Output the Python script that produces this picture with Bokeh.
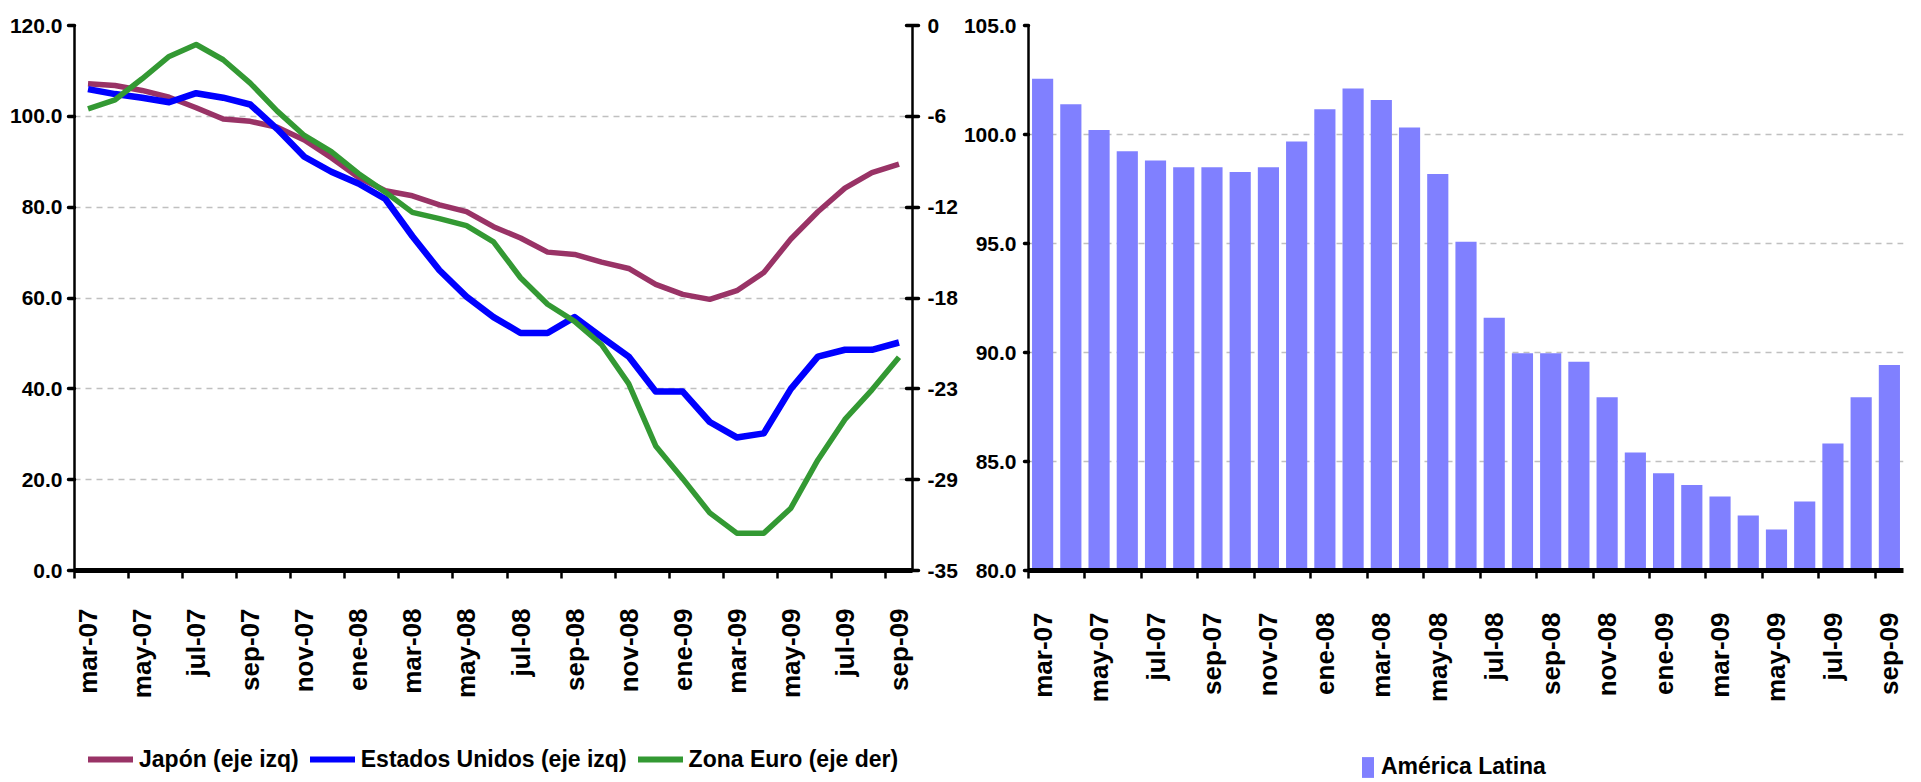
from bokeh.plotting import figure
from bokeh.models import (Range1d, LinearAxis, FixedTicker, NumeralTickFormatter,
                          Legend, LegendItem)
from bokeh.layouts import row, column
from bokeh.embed import file_html
from bokeh.resources import INLINE
from math import pi

# ---------------- data ----------------
months = ["mar-07", "abr-07", "may-07", "jun-07", "jul-07", "ago-07", "sep-07", "oct-07",
          "nov-07", "dic-07", "ene-08", "feb-08", "mar-08", "abr-08", "may-08", "jun-08",
          "jul-08", "ago-08", "sep-08", "oct-08", "nov-08", "dic-08", "ene-09", "feb-09",
          "mar-09", "abr-09", "may-09", "jun-09", "jul-09", "ago-09", "sep-09"]

japon = [107.2, 106.8, 105.7, 104.2, 101.9, 99.4, 98.9, 97.6, 94.8, 90.9, 86.6, 83.6,
         82.5, 80.5, 79.0, 75.7, 73.2, 70.1, 69.6, 67.9, 66.5, 63.0, 60.8, 59.7, 61.6,
         65.6, 73.0, 79.0, 84.2, 87.6, 89.5]

estados_unidos = [106.0, 104.9, 104.1, 103.1, 105.1, 104.1, 102.6, 97.2, 91.1, 87.8, 85.2,
                  81.8, 73.6, 66.1, 60.3, 55.8, 52.3, 52.3, 55.8, 51.4, 47.1, 39.4, 39.4,
                  32.7, 29.3, 30.2, 40.0, 47.1, 48.6, 48.6, 50.2]

zona_euro = [-5.35, -4.77, -3.42, -1.99, -1.22, -2.20, -3.70, -5.50, -7.06, -8.1, -9.5,
             -10.7, -12.0, -12.4, -12.85, -13.9, -16.2, -17.9, -19.0, -20.5, -23.0, -27.0,
             -29.1, -31.3, -32.6, -32.6, -31.0, -27.9, -25.3, -23.4, -21.3]

america_latina = [102.56, 101.39, 100.21, 99.23, 98.81, 98.50, 98.50, 98.28, 98.50, 99.68,
                  101.16, 102.11, 101.58, 100.32, 98.19, 95.08, 91.59, 89.97, 89.97, 89.57,
                  87.95, 85.41, 84.46, 83.92, 83.39, 82.52, 81.88, 83.16, 85.82, 87.95, 89.43]

left_ticks = [0, 20, 40, 60, 80, 100, 120]
euro_tick_labels = ["-35", "-29", "-23", "-18", "-12", "-6", "0"]
bar_ticks = [80, 85, 90, 95, 100, 105]

legend_labels_left = ["Japón (eje izq)", "Estados Unidos (eje izq)", "Zona Euro (eje der)"]
legend_label_right = "América Latina"

# ---------------- style ----------------
FONT = "Liberation Sans"
GRID = "#c0c0c0"
C_JP, C_US, C_EU, C_AL = "#993366", "#0000FF", "#339933", "#8080FF"
MAIN_H, STRIP_H = 735, 47

x = list(range(len(months)))
cat_ticks = x[::2]
boundary_ticks = [i - 0.5 for i in cat_ticks]
label_map = {i: months[i] for i in cat_ticks}


def style_xaxis(ax):
    ax.ticker = FixedTicker(ticks=cat_ticks, minor_ticks=boundary_ticks)
    ax.major_label_overrides = label_map
    ax.major_label_orientation = pi / 2
    ax.major_tick_out = 0
    ax.major_tick_in = 0
    ax.minor_tick_out = 8
    ax.minor_tick_in = 0
    ax.minor_tick_line_width = 2.5
    ax.minor_tick_line_color = "black"
    ax.axis_line_width = 5
    ax.axis_line_color = "black"
    ax.major_label_standoff = 30
    ax.major_label_text_font = FONT
    ax.major_label_text_font_style = "bold"
    ax.major_label_text_font_size = "26px"
    ax.major_label_text_color = "black"


def style_yaxis(ax, size="21px", standoff=6, tin=0, tout=6):
    ax.axis_line_width = 2.5
    ax.axis_line_color = "black"
    ax.major_tick_line_width = 3.5
    ax.major_tick_line_cap = "round"
    ax.major_tick_out = tout
    ax.major_tick_in = tin
    ax.minor_tick_line_color = None
    ax.major_label_text_font = FONT
    ax.major_label_text_font_style = "bold"
    ax.major_label_text_font_size = size
    ax.major_label_text_color = "black"
    ax.major_label_standoff = standoff


def legend_figure(width):
    f = figure(width=width, height=STRIP_H, x_range=Range1d(-1, 0), y_range=Range1d(-1, 0),
               x_axis_type=None, y_axis_type=None, output_backend="svg",
               toolbar_location=None, min_border=0)
    f.outline_line_color = None
    f.grid.visible = False
    return f


def make_legend(items, loc, gw, gh):
    return Legend(items=items, orientation="horizontal", location=loc,
                  glyph_width=gw, glyph_height=gh, label_height=gh, label_standoff=6,
                  spacing=11, padding=0, margin=0, border_line_color=None,
                  background_fill_alpha=0, inactive_fill_alpha=0,
                  label_text_font=FONT, label_text_font_style="bold",
                  label_text_font_size="23px", label_text_color="black")


# ---------------- left chart ----------------
p1 = figure(width=960, height=MAIN_H, x_range=Range1d(-0.5, len(months) - 0.5),
            y_range=Range1d(0, 120), output_backend="svg", toolbar_location=None,
            min_border_left=74, min_border_right=46, min_border_top=25,
            min_border_bottom=MAIN_H - 25 - 545)
p1.extra_y_ranges = {"euro": Range1d(-35, 0)}
p1.outline_line_color = None
p1.xgrid.visible = False
p1.ygrid.ticker = FixedTicker(ticks=left_ticks)
p1.ygrid.grid_line_color = GRID
p1.ygrid.grid_line_dash = "6 5"
p1.ygrid.grid_line_width = 1.5

p1.line(x, japon, line_color=C_JP, line_width=5.5, line_join="round")
p1.line(x, estados_unidos, line_color=C_US, line_width=6.5, line_join="round")
p1.line(x, zona_euro, line_color=C_EU, line_width=5.5, line_join="round",
        y_range_name="euro")

style_xaxis(p1.xaxis[0])
p1.yaxis[0].ticker = FixedTicker(ticks=left_ticks)
p1.yaxis[0].formatter = NumeralTickFormatter(format="0.0")
style_yaxis(p1.yaxis[0])

n_e = len(euro_tick_labels) - 1
euro_ticks = [-35 + 35 * k / n_e for k in range(n_e + 1)]
right_axis = LinearAxis(y_range_name="euro", ticker=FixedTicker(ticks=euro_ticks),
                        major_label_overrides={t: l for t, l in zip(euro_ticks, euro_tick_labels)})
style_yaxis(right_axis, size="21px", standoff=9, tin=6, tout=6)
p1.add_layout(right_axis, "right")

# legend strip under the left chart (hidden copies of the series feed the legend)
l1 = legend_figure(960)
k_j = l1.line(x, japon, line_color=C_JP, line_width=6, line_cap="round", visible=False)
k_u = l1.line(x, estados_unidos, line_color=C_US, line_width=6, line_cap="round", visible=False)
k_e = l1.line(x, zona_euro, line_color=C_EU, line_width=6, line_cap="round", visible=False)
l1.add_layout(make_legend([LegendItem(label=legend_labels_left[0], renderers=[k_j]),
                           LegendItem(label=legend_labels_left[1], renderers=[k_u]),
                           LegendItem(label=legend_labels_left[2], renderers=[k_e])],
                          (88, 8), 45, 30))

# ---------------- right chart ----------------
p2 = figure(width=960, height=MAIN_H, x_range=Range1d(-0.5, len(months) - 0.5),
            y_range=Range1d(80, 105), output_backend="svg", toolbar_location=None,
            min_border_left=55, min_border_right=17, min_border_top=21,
            min_border_bottom=MAIN_H - 21 - 555)
p2.outline_line_color = None
p2.xgrid.visible = False
p2.ygrid.ticker = FixedTicker(ticks=bar_ticks)
p2.ygrid.grid_line_color = GRID
p2.ygrid.grid_line_dash = "6 5"
p2.ygrid.grid_line_width = 1.5

p2.vbar(x=x, top=america_latina, bottom=80, width=0.75, fill_color=C_AL, line_color=None)

style_xaxis(p2.xaxis[0])
p2.xaxis[0].major_label_standoff = 34
p2.yaxis[0].ticker = FixedTicker(ticks=bar_ticks)
p2.yaxis[0].formatter = NumeralTickFormatter(format="0.0")
style_yaxis(p2.yaxis[0], size="21px", standoff=8, tout=4)

# legend strip under the right chart
l2 = legend_figure(960)
k_b = l2.vbar(x=x, top=america_latina, width=0.75, fill_color=C_AL, line_color=None,
              visible=False)
l2.add_layout(make_legend([LegendItem(label=legend_label_right, renderers=[k_b])],
                          (400, 2), 15, 26))

layout = column(row(p1, p2), row(l1, l2))
open("out.html", "w").write(file_html(layout, INLINE))
